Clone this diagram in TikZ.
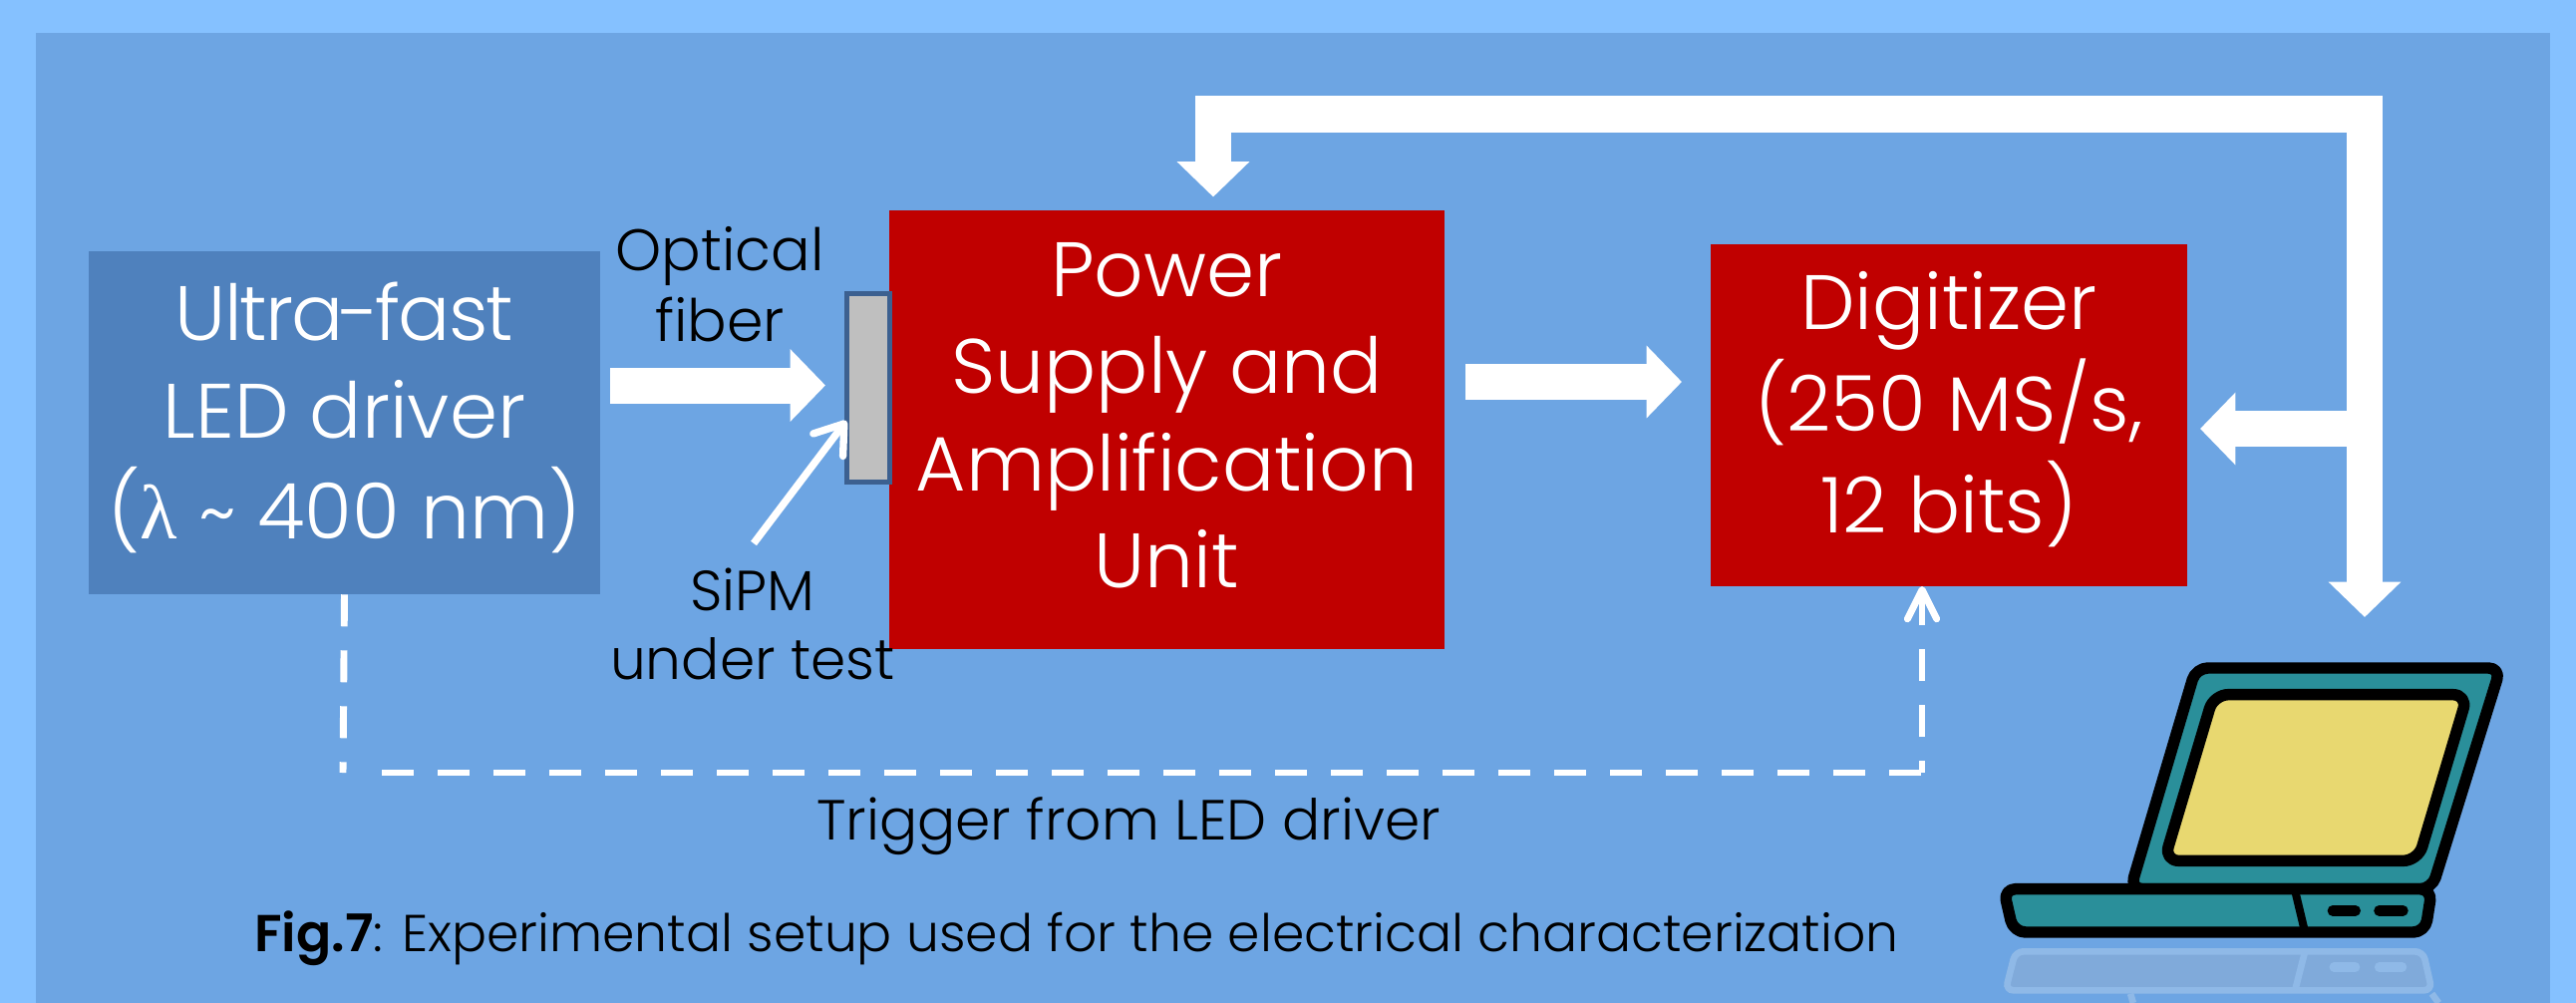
\documentclass[tikz,border=0pt]{standalone}
\usepackage{fontspec}
\setmainfont{Poppins Light}[BoldFont={Poppins SemiBold}]
\newfontfamily\symfont{Liberation Serif}
\usetikzlibrary{arrows.meta}
\definecolor{outerblue}{HTML}{85C1FF}
\definecolor{panelblue}{HTML}{6DA5E3}
\definecolor{ledblue}{HTML}{4F81BD}
\definecolor{boxred}{HTML}{C00000}
\definecolor{sipmgrey}{HTML}{BFBFBF}
\definecolor{sipmedge}{HTML}{3C6090}
\definecolor{lapteal}{HTML}{2A8F9A}
\definecolor{lapyellow}{HTML}{E8D870}
\definecolor{refledge}{HTML}{8FB9E7}
\definecolor{reflfill}{HTML}{80AADA}
\newcommand\linesat[2]{\raisebox{#1}[0pt][0pt]{\begin{tabular}{@{}c@{}}#2\end{tabular}}}
\tikzset{
  x=0.75pt,y=-0.75pt,
  blockbox/.style={rectangle,inner sep=0pt,text=white,fill=#1},
  blocktext/.style={font=\fontsize{58}{73}\selectfont},
  smalltext/.style={inner sep=0pt,text=black,font=\fontsize{42.5}{52}\selectfont},
  bigarrow/.style={draw=white,line width=27pt,miter limit=10,
    arrows={-{Triangle[length=26.5pt,width=53pt,fill=white]}}},
  doublearrow/.style={draw=white,line width=27pt,line join=miter,
    arrows={{Triangle[length=26.5pt,width=53pt,fill=white]}-{Triangle[length=26.5pt,width=53pt,fill=white]}}},
  triggerline/.style={draw=white,line width=5.2pt,dash pattern=on 24pt off 18pt},
  lapline/.style={draw=black,line width=8.6pt,line join=round},
}
\begin{document}
\begin{tikzpicture}
\useasboundingbox (0,0) rectangle (2584,1006);
\fill[outerblue] (0,0) rectangle (2584,1006);
\fill[panelblue] (36,33) rectangle (2558,1006);

% blocks
\node[blockbox=ledblue,minimum width=384.75pt,minimum height=258pt,blocktext] (led) at (345.5,424)
  {\linesat{-4.5pt}{{\addfontfeature{LetterSpace=-2.5}Ultra\kern-3pt-\kern-3pt fast}\\LED driver\\({\symfont λ} \char`~{} 400 nm)}};
\node[blockbox=boxred,minimum width=417.75pt,minimum height=330pt,blocktext] (power) at (1170.5,431)
  {\linesat{-1pt}{Power\\Supply and\\Amplification\\Unit}};
\node[blockbox=boxred,minimum width=358.5pt,minimum height=257.25pt,blocktext] (digit) at (1955,416.5)
  {\linesat{-3.5pt}{Digitizer\\(250 MS/s,\\12 bits)}};
\node[rectangle,draw=sipmedge,fill=sipmgrey,line width=3.75pt,inner sep=0pt,minimum width=32.25pt,minimum height=141.75pt] (sipm) at (871,389) {};

% labels
\node[smalltext,font=\fontsize{44}{53}\selectfont] (fiberlabel) at (722,293) {\begin{tabular}{@{}c@{}}Optical\\fiber\end{tabular}};
\node[smalltext] (sipmlabel) at (755,633) {\begin{tabular}{@{}c@{}}SiPM\\under test\end{tabular}};
\node[smalltext,anchor=base] (triglabel) at (1132,842) {Trigger from LED driver};
\node[smalltext,anchor=base,font=\fontsize{39}{52}\selectfont] (caption) at (1080,954) {\textbf{Fig.7}: Experimental setup used for the electrical characterization};

% anchor points of connectors
\coordinate (fiberA) at (612,386.5);
\coordinate (fiberB) at (828,386.5);
\coordinate (midA) at (1470,383);
\coordinate (midB) at (1687,383);
\coordinate (loopTip) at (1217,197.5);
\coordinate (loopTL) at (1217,114.5);
\coordinate (loopTR) at (2372,114.5);
\coordinate (laptopTip) at (2372,619);
\coordinate (branch) at (2372,430);
\coordinate (digitTip) at (2207,430);
\coordinate (sipmFoot) at (756,545);
\coordinate (sipmTip) at (849,422);
\coordinate (trigC1) at (344,775);
\coordinate (trigH) at (383,775);
\coordinate (trigC2) at (1928,775);
\coordinate (trigTip) at (1928,588);

% block arrows
\draw[bigarrow] (fiberA) -- (fiberB);
\draw[bigarrow] (midA) -- (midB);
\draw[doublearrow] (laptopTip) -- (loopTR) -- (loopTL) -- (loopTip);
\draw[bigarrow] (branch) -- (digitTip);
% SiPM pointer
\draw[draw=white,line width=5.5pt,line cap=butt,arrows={-{Straight Barb[length=20pt,width=28pt,round]}}] (sipmFoot) -- (sipmTip);
% trigger
\draw[triggerline] (led.south) -- (trigC1);
\draw[triggerline] (trigH) -- (trigC2);
\draw[triggerline,dash phase=15pt,arrows={-{Straight Barb[length=22pt,width=22pt,round]}}] (trigC2) -- (trigTip);

% laptop, in crop units of the enlarged view
\begin{scope}[shift={(1960,560)},x=0.2984pt,y=-0.25pt]
  % reflection
  \path[fill=reflfill,draw=refledge,line width=5pt,rounded corners=6pt]
     (155,1183) -- (1183,1183) -- (1205,1300) -- (130,1300) -- cycle;
  \draw[refledge,line width=5pt] (885,1183) -- (860,1300);
  \draw[refledge,line width=5pt] (445,1310) -- (452,1338);
  \draw[refledge,line width=5pt] (1205,1310) -- (1222,1338);
  \draw[refledge,line width=7pt,line cap=round] (958,1230) -- (1012,1230);
  \draw[refledge,line width=7pt,line cap=round] (1072,1230) -- (1130,1230);
  % lid
  \draw[lapline,fill=lapteal,rounded corners=9pt] (610,330) -- (1378,330) -- (1205,995) -- (445,995) -- cycle;
  % screen
  \draw[lapline,fill=lapyellow,rounded corners=11pt] (655,410) -- (1295,410) -- (1170,910) -- (530,910) -- cycle;
  % base
  \draw[lapline,fill=lapteal,rounded corners=9pt] (125,995) -- (1205,995) -- (1188,1125) -- (150,1125) -- cycle;
  \draw[draw=black,line width=6pt] (860,1000) -- (885,1125);
  \draw[black,line width=8pt,line cap=round] (955,1060) -- (1012,1060);
  \draw[black,line width=8pt,line cap=round] (1072,1060) -- (1132,1060);
\end{scope}
\end{tikzpicture}
\end{document}
